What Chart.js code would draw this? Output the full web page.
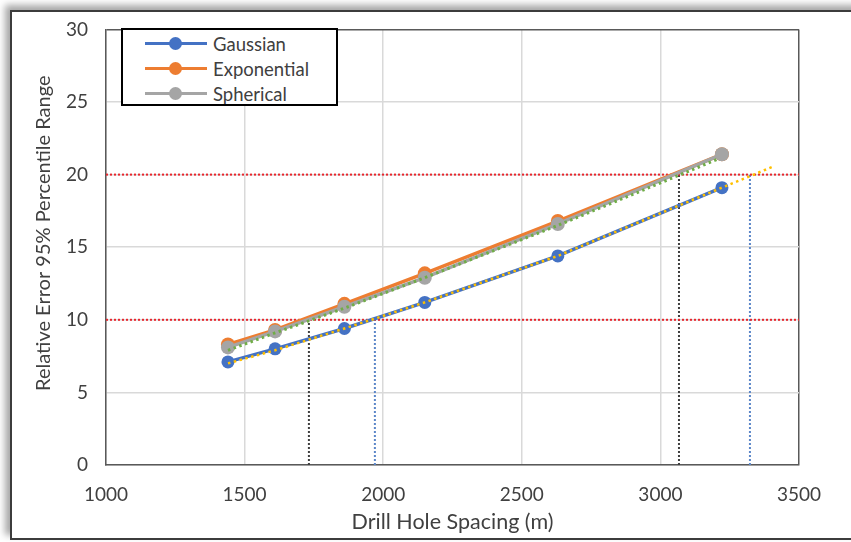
<!DOCTYPE html>
<html>
<head>
<meta charset="utf-8">
<script src="https://cdn.jsdelivr.net/npm/chart.js@4"></script>
<style>
  html, body { margin: 0; padding: 0; background: #fff; overflow: hidden; }
  #wrap { position: relative; width: 851px; height: 542px; }
  #frame {
    position: absolute; left: 10px; top: 10px; width: 900px; height: 526px;
    border: 2px solid #3c3c3c; box-shadow: -5px -5px 7px rgba(0,0,0,0.35);
  }
  #c { position: absolute; left: 0; top: 0; }
  #legend {
    position: absolute; left: 121px; top: 28px; width: 213px; height: 74px;
    border: 2px solid #000; background: #fff;
    font: 18.5px Lato, "Open Sans", sans-serif; color: #404040;
  }
  .row { position: absolute; left: 0; height: 24px; display: flex; align-items: center; }
  .swatch { position: relative; width: 62px; height: 24px; margin-left: 22px; margin-right: 6px; }
  .swatch .ln { position: absolute; left: 0; right: 0; top: 10px; height: 3px; }
  .swatch .mk { position: absolute; left: 24px; top: 5px; width: 13px; height: 13px; border-radius: 50%; }
</style>
</head>
<body>
<div id="wrap">
  <div id="frame"></div>
  <canvas id="c" width="851" height="542"></canvas>
  <div id="legend"></div>
</div>
<script>
/* ─── Data ─────────────────────────────────────────────── */
const spacing     = [1440, 1610, 1860, 2150, 2630, 3222];
const gaussian    = [7.1, 8.0, 9.4, 11.2, 14.4, 19.1];
const exponential = [8.3, 9.3, 11.1, 13.2, 16.8, 21.4];
const spherical   = [8.1, 9.2, 10.9, 12.9, 16.6, 21.4];

// dotted trend lines
const gaussTrendX = [1440, 1610, 1860, 2150, 2630, 3222, 3413];
const gaussTrendY = [7.0, 7.9, 9.4, 11.2, 14.4, 19.1, 20.6];
const otherTrendX = [1440, 1610, 1860, 2150, 2630, 3205];
const otherTrendY = [7.9, 9.1, 10.8, 12.9, 16.5, 21.05];

// limits and where the trends cross them
const limits     = [10, 20];
const gaussCross = [1970, 3323];
const otherCross = [1732, 3067];

const xRange = [1000, 3500];
const yRange = [0, 30];

const seriesNames  = ['Gaussian', 'Exponential', 'Spherical'];
const seriesColors = ['#4472c4', '#ed7d31', '#a5a5a5'];

const X_TITLE = 'Drill Hole Spacing (m)';
const Y_TITLE = 'Relative Error 95% Percentile Range';

/* ─── Helpers ─────────────────────────────────────────── */
const FONT = 'Lato, "Open Sans", sans-serif';
const TEXT = '#404040';
const pts = (xs, ys) => xs.map((x, i) => ({ x, y: ys[i] }));

const series = (label, ys, color, radius, order) => ({
  label, data: pts(spacing, ys), showLine: true,
  borderColor: color, backgroundColor: color,
  borderWidth: 3.5, pointRadius: radius, pointBorderWidth: 0,
  pointBackgroundColor: color, order,
});

const dotted = (data, color, width, dash, order) => ({
  label: '', data, showLine: true,
  borderColor: color, borderWidth: width, borderDash: dash,
  pointRadius: 0, order,
});

/* ─── Datasets ────────────────────────────────────────── */
const datasets = [
  dotted(pts(gaussTrendX, gaussTrendY), '#ffc000', 2.5, [2.5, 3.5], 0),
  dotted(pts(otherTrendX, otherTrendY), '#70ad47', 3, [2.5, 3.5], 0),
  series(seriesNames[2], spherical, seriesColors[2], 7, 1),
  series(seriesNames[1], exponential, seriesColors[1], 7, 2),
  series(seriesNames[0], gaussian, seriesColors[0], 6.5, 3),
];

limits.forEach((l, i) => {
  datasets.push(dotted([{ x: xRange[0], y: l }, { x: xRange[1], y: l }], '#e8262d', 2, [2, 2], 5));
  datasets.push(dotted([{ x: otherCross[i], y: yRange[0] }, { x: otherCross[i], y: l }], '#3f3f3f', 2, [2, 2], 5));
  datasets.push(dotted([{ x: gaussCross[i], y: yRange[0] }, { x: gaussCross[i], y: l }], '#5b86c8', 2, [2, 2], 5));
});

// y title sits a little above the middle of the axis, as in Excel
const yTitlePlugin = {
  id: 'yTitle',
  afterDraw(chart) {
    const { ctx, chartArea } = chart;
    ctx.save();
    ctx.translate(44, (chartArea.top + chartArea.bottom) / 2 - 14);
    ctx.rotate(-Math.PI / 2);
    ctx.font = `20px ${FONT}`;
    ctx.fillStyle = TEXT;
    ctx.textAlign = 'center';
    ctx.textBaseline = 'middle';
    ctx.fillText(Y_TITLE, 0, 0);
    ctx.restore();
  },
};

/* ─── Chart ───────────────────────────────────────────── */
new Chart(document.getElementById('c'), {
  type: 'scatter',
  data: { datasets },
  plugins: [yTitlePlugin],
  options: {
    responsive: false,
    animation: false,
    layout: { padding: { left: 0, top: 23, right: 52, bottom: 0 } },
    plugins: { legend: { display: false }, tooltip: { enabled: false } },
    scales: {
      x: {
        type: 'linear', min: xRange[0], max: xRange[1],
        ticks: {
          stepSize: 500, color: TEXT, font: { family: FONT, size: 19 }, padding: 18, maxRotation: 0,
          callback: v => String(v),
        },
        grid: {
          drawTicks: false, lineWidth: 1.5,
          color: ctx => ctx.tick && ctx.tick.value === xRange[1] ? '#595959' : '#d9d9d9',
        },
        border: { color: '#595959', width: 1.5 },
        title: {
          display: true, text: X_TITLE, color: TEXT,
          font: { family: FONT, size: 21.5 }, padding: { top: 0, bottom: 7 },
        },
        afterFit: s => { s.height = 77; },
      },
      y: {
        min: yRange[0], max: yRange[1],
        ticks: { stepSize: 5, color: TEXT, font: { family: FONT, size: 19 }, padding: 18 },
        grid: {
          drawTicks: false, lineWidth: 1.5,
          color: ctx => ctx.tick && ctx.tick.value === yRange[1] ? '#595959' : '#d9d9d9',
        },
        border: { color: '#595959', width: 1.5 },
        afterFit: s => { s.width = 106; },
      },
    },
  },
});

/* ─── Legend ──────────────────────────────────────────── */
const legend = document.getElementById('legend');
seriesNames.forEach((name, i) => {
  const row = document.createElement('div');
  row.className = 'row';
  row.style.top = (2 + i * 25) + 'px';
  row.innerHTML =
    `<div class="swatch"><div class="ln" style="background:${seriesColors[i]}"></div>` +
    `<div class="mk" style="background:${seriesColors[i]}"></div></div><span>${name}</span>`;
  legend.appendChild(row);
});
</script>
</body>
</html>
